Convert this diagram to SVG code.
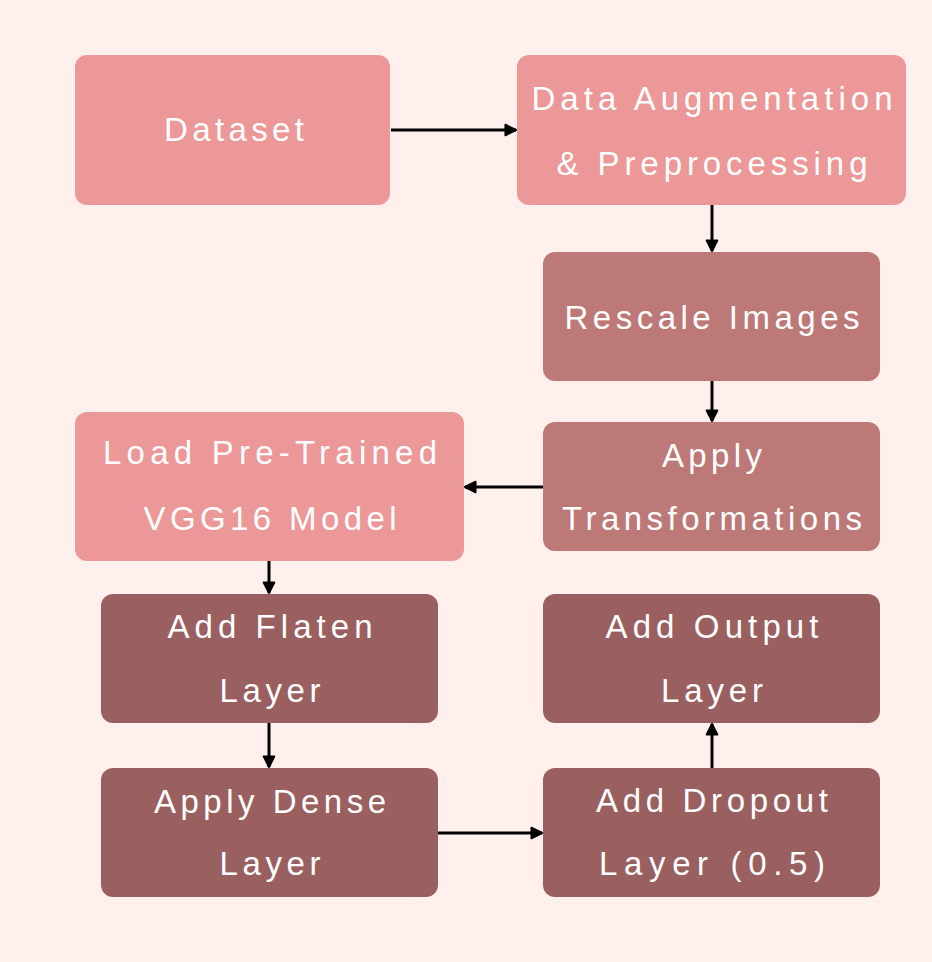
<svg xmlns="http://www.w3.org/2000/svg" width="932" height="962" viewBox="0 0 932 962">
<defs>
<style>
.light{fill:#EC9898}
.mid{fill:#BD7878}
.dark{fill:#9A6060}
text{font-family:"Liberation Sans",Arial,sans-serif;font-size:33px;fill:#FFFFFF;text-anchor:middle}
.conn{stroke:#000;stroke-width:3;fill:none;marker-end:url(#ah)}
</style>
<marker id="ah" viewBox="0 0 10 10" refX="9" refY="5" markerWidth="4.4" markerHeight="4.4" orient="auto" markerUnits="strokeWidth">
<path d="M1,1 L9,5 L1,9 z" fill="#000" stroke="#000" stroke-width="1.5" stroke-linejoin="round"/>
</marker>
</defs>
<rect width="932" height="962" fill="#FFF0ED"/>
<g id="connectors">
<line class="conn" x1="391" y1="130" x2="516" y2="130"/>
<line class="conn" x1="712" y1="205" x2="712" y2="251"/>
<line class="conn" x1="712" y1="381" x2="712" y2="421"/>
<line class="conn" x1="543" y1="487" x2="465" y2="487"/>
<line class="conn" x1="269" y1="561" x2="269" y2="593"/>
<line class="conn" x1="269" y1="723" x2="269" y2="767"/>
<line class="conn" x1="438" y1="833" x2="542" y2="833"/>
<line class="conn" x1="712" y1="768" x2="712" y2="724"/>
</g>
<g id="dataset">
<rect class="light" x="75" y="55" width="315" height="150" rx="12"/>
<text x="234" y="141" textLength="140" lengthAdjust="spacing">Dataset</text>
</g>
<g id="augmentation">
<rect class="light" x="517" y="55" width="389" height="150" rx="12"/>
<text x="712" y="110" textLength="361" lengthAdjust="spacing">Data Augmentation</text>
<text x="712" y="175" textLength="311" lengthAdjust="spacing">&amp; Preprocessing</text>
</g>
<g id="rescale">
<rect class="mid" x="543" y="252" width="337" height="129" rx="12"/>
<text x="712" y="329" textLength="295" lengthAdjust="spacing">Rescale Images</text>
</g>
<g id="transform">
<rect class="mid" x="543" y="422" width="337" height="129" rx="12"/>
<text x="712" y="467" textLength="100" lengthAdjust="spacing">Apply</text>
<text x="712" y="530" textLength="300" lengthAdjust="spacing">Transformations</text>
</g>
<g id="vgg">
<rect class="light" x="75" y="412" width="389" height="149" rx="12"/>
<text x="270" y="464" textLength="334" lengthAdjust="spacing">Load Pre-Trained</text>
<text x="270" y="530" textLength="253" lengthAdjust="spacing">VGG16 Model</text>
</g>
<g id="flatten">
<rect class="dark" x="101" y="594" width="337" height="129" rx="12"/>
<text x="270" y="638" textLength="205" lengthAdjust="spacing">Add Flaten</text>
<text x="270" y="702" textLength="101" lengthAdjust="spacing">Layer</text>
</g>
<g id="dense">
<rect class="dark" x="101" y="768" width="337" height="129" rx="12"/>
<text x="270" y="813" textLength="232" lengthAdjust="spacing">Apply Dense</text>
<text x="270" y="875" textLength="101" lengthAdjust="spacing">Layer</text>
</g>
<g id="output">
<rect class="dark" x="543" y="594" width="337" height="129" rx="12"/>
<text x="712" y="638" textLength="213" lengthAdjust="spacing">Add Output</text>
<text x="712" y="702" textLength="102" lengthAdjust="spacing">Layer</text>
</g>
<g id="dropout">
<rect class="dark" x="543" y="768" width="337" height="129" rx="12"/>
<text x="712" y="812" textLength="232" lengthAdjust="spacing">Add Dropout</text>
<text x="712" y="875" textLength="226" lengthAdjust="spacing">Layer (0.5)</text>
</g>
</svg>
